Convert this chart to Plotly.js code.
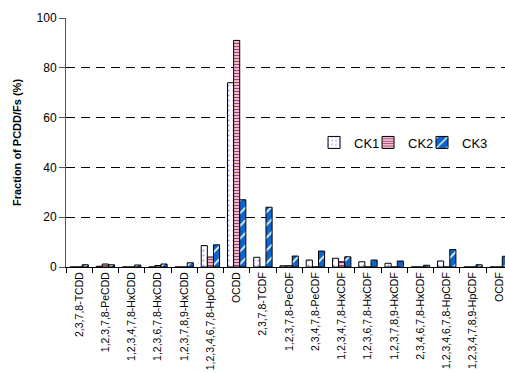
<!DOCTYPE html>
<html>
<head>
<meta charset="utf-8">
<script src="https://cdn.plot.ly/plotly-3.0.1.min.js"></script>
<style>
  html, body { margin: 0; padding: 0; background: #fff; overflow: hidden; }
  #chart { width: 505px; height: 373px; }
</style>
</head>
<body>
<div id="chart"></div>
<script>
// PCDD/F congeners (17 toxic 2,3,7,8-substituted congeners)
const congeners = [
  "2,3,7,8-TCDD",
  "1,2,3,7,8-PeCDD",
  "1,2,3,4,7,8-HxCDD",
  "1,2,3,6,7,8-HxCDD",
  "1,2,3,7,8,9-HxCDD",
  "1,2,3,4,6,7,8-HpCDD",
  "OCDD",
  "2,3,7,8-TCDF",
  "1,2,3,7,8-PeCDF",
  "2,3,4,7,8-PeCDF",
  "1,2,3,4,7,8-HxCDF",
  "1,2,3,6,7,8-HxCDF",
  "1,2,3,7,8,9-HxCDF",
  "2,3,4,6,7,8-HxCDF",
  "1,2,3,4,6,7,8-HpCDF",
  "1,2,3,4,7,8,9-HpCDF",
  "OCDF"
];

// Fraction of total PCDD/Fs (%) per sample
const ck1 = [0, 0.3, 0, 0, 0, 8.6, 74, 3.9, 0.5, 2.8, 3.5, 2.1, 1.5, 0, 2.4, 0, 0];
const ck2 = [0, 1.2, 0, 0.6, 0, 4.0, 91, 0, 0.5, 0, 2.1, 0, 0, 0, 0, 0, 0];
const ck3 = [0.9, 0.9, 0.8, 1.2, 1.7, 8.9, 27, 24, 4.4, 6.4, 4.1, 2.8, 2.4, 0.7, 7.0, 0.9, 4.3];

const yTicks = [0, 20, 40, 60, 80, 100];

const outline = { color: "#000", width: 1 };

const traces = [
  {
    type: "bar", name: "CK1", x: congeners, y: ck1, legend: "legend",
    marker: {
      color: "#ffffff", line: outline,
      pattern: { shape: ".", bgcolor: "#ffffff", fgcolor: "#9a9aff", size: 5, solidity: 0.15 }
    }
  },
  {
    type: "bar", name: "CK2", x: congeners, y: ck2, legend: "legend2",
    marker: {
      color: "#ffd6e2", line: outline,
      pattern: { shape: "-", bgcolor: "#ffd6e2", fgcolor: "#a04070", size: 3, solidity: 0.45 }
    }
  },
  {
    type: "bar", name: "CK3", x: congeners, y: ck3, legend: "legend3",
    marker: {
      color: "#0066cc", line: outline,
      pattern: { shape: "/", bgcolor: "#0a66cc", fgcolor: "#ffffff", size: 9, solidity: 0.18 }
    }
  }
];

// one small legend box per sample, laid out in a row
function legendAt(x) {
  return {
    x: x, y: 0.5, xanchor: "left", yanchor: "middle",
    font: { size: 13 },
    bgcolor: "rgba(0,0,0,0)",
    itemwidth: 30
  };
}

const layout = {
  width: 505,
  height: 373,
  margin: { l: 66, r: 0, t: 18, b: 106 },
  paper_bgcolor: "#ffffff",
  plot_bgcolor: "#ffffff",
  font: { family: "Liberation Sans, Arial, sans-serif", color: "#000" },
  barmode: "group",
  bargap: 0.3,
  bargroupgap: 0,
  showlegend: true,
  legend: legendAt(0.565),
  legend2: legendAt(0.688),
  legend3: legendAt(0.811),
  xaxis: {
    type: "category",
    range: [-0.5, 16.22],
    tickangle: -90,
    tickfont: { size: 10.5 },
    ticks: "outside",
    tickson: "boundaries",
    ticklen: 5,
    tickcolor: "#000",
    showline: true,
    linecolor: "#000",
    linewidth: 1,
    showgrid: false,
    zeroline: false,
    fixedrange: true
  },
  yaxis: {
    range: [0, 100],
    tickvals: yTicks,
    ticktext: yTicks.map(String),
    tickfont: { size: 12 },
    ticks: "outside",
    ticklen: 6,
    tickcolor: "#555",
    showline: true,
    linecolor: "#555",
    linewidth: 1,
    showgrid: true,
    gridcolor: "#000",
    gridwidth: 1,
    griddash: "9px,6px",
    zeroline: false,
    title: { text: "<b>Fraction of PCDD/Fs (%)</b>", font: { size: 11 }, standoff: 12 }
  }
};

Plotly.newPlot("chart", traces, layout, { staticPlot: true, displayModeBar: false });
</script>
</body>
</html>
